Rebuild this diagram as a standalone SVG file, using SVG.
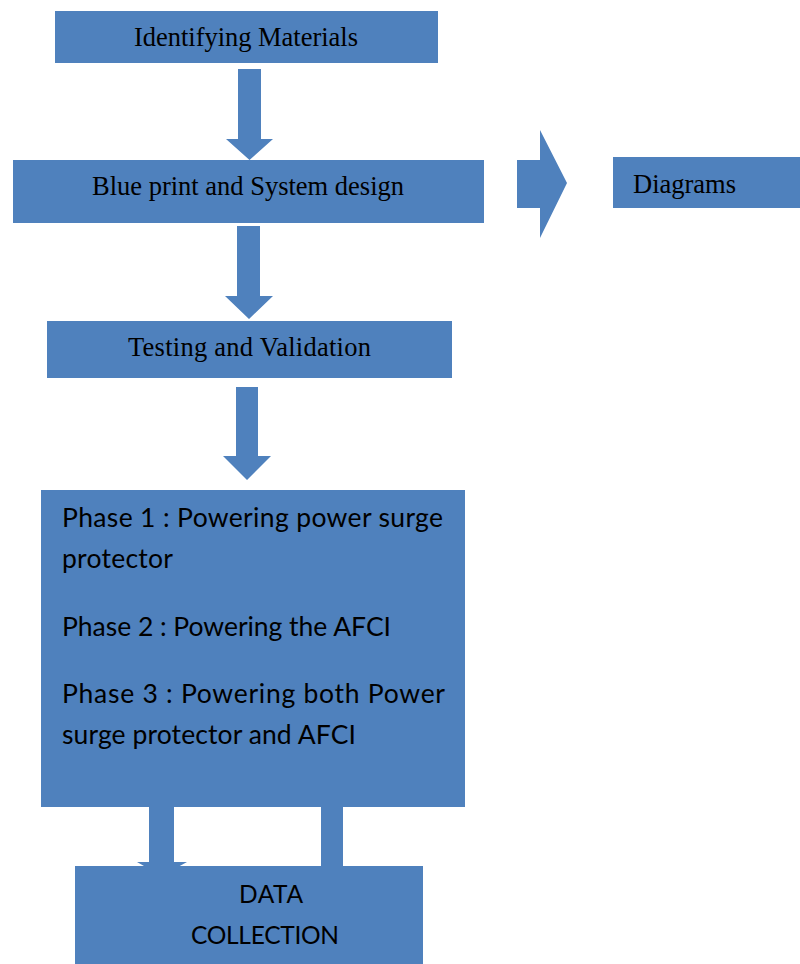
<svg xmlns="http://www.w3.org/2000/svg" width="800" height="964" viewBox="0 0 800 964">
<style>
.box{fill:#4F81BD;}
.arr{fill:#4F81BD;}
.serif{font-family:"Liberation Serif","Times New Roman",serif;font-size:26.5px;fill:#000;}
.sans{font-family:Lato,"Open Sans","Liberation Sans",sans-serif;font-size:26.5px;fill:#000;}
.caps{font-size:24.5px;}
</style>
<rect width="800" height="964" fill="#fff"/>
<g id="connectors">
<polygon class="arr" points="238,69 261,69 261,139 273,139 249.5,160 226,139 238,139"/>
<polygon class="arr" points="237,226 260,226 260,296 273,296 249,319 225,296 237,296"/>
<polygon class="arr" points="236,387 258,387 258,456 271,456 247,480 223,456 236,456"/>
<polygon class="arr" points="517,160 540,160 540,130 567,183 540,238 540,208 517,208"/>
<polygon class="arr" points="149,807 174,807 174,862 187,862 161.5,876 137,862 149,862"/>
<rect class="arr" x="321" y="807" width="22" height="60"/>
</g>
<g id="identifying-materials">
<rect class="box" x="55" y="11" width="383" height="52"/>
<text class="serif" x="134" y="46" textLength="224">Identifying Materials</text>
</g>
<g id="blue-print">
<rect class="box" x="13" y="160" width="471" height="63"/>
<text class="serif" x="92" y="195" textLength="312">Blue print and System design</text>
</g>
<g id="diagrams">
<rect class="box" x="613" y="157" width="187" height="51"/>
<text class="serif" x="633" y="193" textLength="103">Diagrams</text>
</g>
<g id="testing-validation">
<rect class="box" x="47" y="321" width="405" height="57"/>
<text class="serif" x="128" y="356" textLength="243">Testing and Validation</text>
</g>
<g id="phases">
<rect class="box" x="41" y="490" width="424" height="317"/>
<text class="sans" x="62" y="527" textLength="381">Phase 1 : Powering power surge</text>
<text class="sans" x="62" y="568" textLength="111">protector</text>
<text class="sans" x="62" y="636" textLength="329">Phase 2 : Powering the AFCI</text>
<text class="sans" x="62" y="703" textLength="383">Phase 3 : Powering both Power</text>
<text class="sans" x="62" y="744" textLength="294">surge protector and AFCI</text>
</g>
<g id="data-collection">
<rect class="box" x="75" y="866" width="348" height="98"/>
<text class="sans caps" x="239" y="903" textLength="64">DATA</text>
<text class="sans caps" x="191" y="944" textLength="148">COLLECTION</text>
</g>
</svg>
